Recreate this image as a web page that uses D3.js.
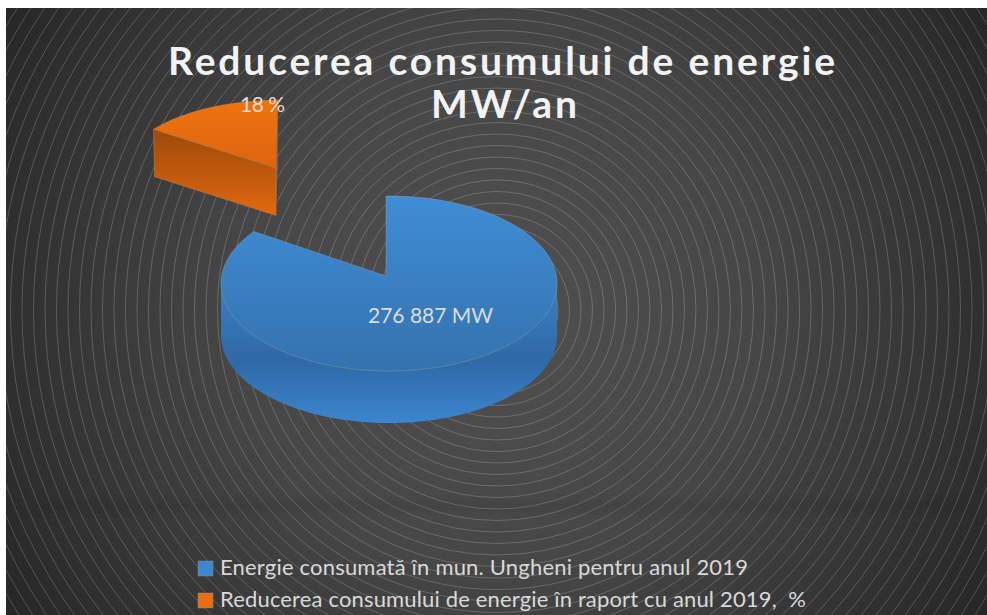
<!DOCTYPE html>
<html><head><meta charset="utf-8">
<script src="https://d3js.org/d3.v7.min.js"></script>
<style>html,body{margin:0;padding:0;background:#fff;overflow:hidden}svg{display:block}text{white-space:pre}</style>
</head><body><svg id="c" width="987" height="615"></svg>
<script>
const categories = ["Energie consumată în mun. Ungheni pentru anul 2019", "Reducerea consumului de energie în raport cu anul 2019,  %"];
const sliceValues = [276887, 47300];
const sliceLabels = ["276 887 MW", "18 %"];
const titleLines = ["Reducerea consumului de energie", "MW/an"];

const svg = d3.select("#c");
const defs = svg.append("defs");
function grad(id, stops, radial){
  const g = defs.append(radial ? "radialGradient" : "linearGradient").attr("id", id);
  if(radial){ g.attr("gradientUnits","userSpaceOnUse").attr("cx",497).attr("cy",310).attr("r",590); }
  else { g.attr("x1",0).attr("y1",0).attr("x2",0).attr("y2",1); }
  stops.forEach(s => g.append("stop").attr("offset",s[0]).attr("stop-color",s[1]));
}
grad("bg", [[0,"#505050"],[0.45,"#464646"],[1,"#252525"]], true);
grad("blueTop", [[0,"#3f8dd6"],[1,"#3472ae"]]);
grad("blueSide", [[0,"#3a80c4"],[0.55,"#2f69a6"],[1,"#3b86ce"]]);
grad("orTop", [[0,"#f0730f"],[1,"#db650f"]]);
grad("orSide", [[0,"#9c4a0a"],[1,"#e2680f"]]);
defs.append("filter").attr("id","soft").attr("x","-5%").attr("y","-100%").attr("width","110%").attr("height","300%")
  .append("feGaussianBlur").attr("stdDeviation",4);

svg.append("rect").attr("x",6).attr("y",8).attr("width",981).attr("height",607).attr("fill","url(#bg)");
const clip = defs.append("clipPath").attr("id","pl");
clip.append("rect").attr("x",6).attr("y",8).attr("width",981).attr("height",607);
svg.append("g").attr("clip-path","url(#pl)").selectAll("circle").data(d3.range(0,60)).join("circle")
  .attr("cx",497).attr("cy",310).attr("r",k=>3.5+11.5*k)
  .attr("fill","none").attr("stroke","#fff").attr("stroke-opacity",0.3).attr("stroke-width",0.65);
svg.append("rect").attr("x",40).attr("y",501).attr("width",925).attr("height",10).attr("fill","#000").attr("opacity",0.07).attr("filter","url(#soft)");

const pie = d3.pie().sort(null).startAngle(-Math.PI/180).endAngle(359*Math.PI/180);
const arcs = pie(sliceValues);
const line = d3.line();
function projector(cx,cy,rx,ry){
  const x = d3.scaleLinear().domain([-1,1]).range([cx-rx,cx+rx]);
  const y = d3.scaleLinear().domain([-1,1]).range([cy+ry,cy-ry]);
  return a => [x(Math.sin(a)), y(Math.cos(a))];
}
function sweep(p,a0,a1,dy=0){
  const n = 120;
  return d3.range(n+1).map(i=>{const q=p(a0+(a1-a0)*i/n);return [q[0],q[1]+dy];});
}
const EDGE = "#a9b4bd";

// orange exploded slice
const pO = projector(280.6,172,158,72), aO = arcs[1], apexO = [276,168], dO = 47.5;
const leftO = p => [p[0]+1, p[1]+dO];
const gO = svg.append("g");
const cO = pO(aO.startAngle), tO = pO(aO.endAngle);
gO.append("path").attr("d", line([cO,apexO,[apexO[0],apexO[1]+dO],leftO(cO)])+"Z").attr("fill","url(#orSide)").attr("stroke","#c97a3a").attr("stroke-width",0.5);
gO.append("path").attr("d", line([tO,[tO[0]-0.3,apexO[1]],[apexO[0],apexO[1]+dO],apexO])+"Z").attr("fill","#8e6a4c");
gO.append("path").attr("d", line([apexO,...sweep(pO,aO.startAngle,aO.endAngle)])+"Z").attr("fill","url(#orTop)").attr("stroke","#b08a68").attr("stroke-width",0.5).attr("stroke-opacity",.7);

// blue slice
const pB = projector(389,283.5,168,87.5), aB = arcs[0], apexB = [386,276], dB = 52;
const gB = svg.append("g");
const wall = sweep(pB,Math.PI/2,3*Math.PI/2);
const wallLow = sweep(pB,3*Math.PI/2,Math.PI/2,dB);
gB.append("path").attr("d", line([...wall,...wallLow])+"Z").attr("fill","url(#blueSide)");
gB.append("path").attr("d", line([apexB,...sweep(pB,aB.startAngle,aB.endAngle)])+"Z").attr("fill","url(#blueTop)").attr("stroke",EDGE).attr("stroke-width",0.6).attr("stroke-opacity",.55);

// labels
const lab = svg.append("g").attr("font-family","Lato, Carlito, sans-serif").attr("fill","#dcdcdc");
lab.append("text").attr("x",430.5).attr("y",323).attr("text-anchor","middle").attr("font-size",21).attr("textLength",125).attr("lengthAdjust","spacing").text(sliceLabels[0]);
lab.append("text").attr("x",262.5).attr("y",112).attr("text-anchor","middle").attr("font-size",21).attr("textLength",45).attr("lengthAdjust","spacing").text(sliceLabels[1]);

// title
const tt = svg.append("g").attr("font-family","Lato, Carlito, sans-serif").attr("font-weight",700).attr("font-size",39).attr("fill","#f2f2f2");
tt.append("text").attr("x",501.5).attr("y",75).attr("text-anchor","middle").attr("textLength",667).attr("lengthAdjust","spacing").text(titleLines[0]);
tt.append("text").attr("x",504).attr("y",118).attr("text-anchor","middle").attr("textLength",146).attr("lengthAdjust","spacing").text(titleLines[1]);

// legend
const colors = d3.scaleOrdinal().domain(categories).range(["#3c88d0","#ea6e10"]);
const lw = [528,586];
const leg = svg.append("g").selectAll("g").data(categories).join("g").attr("transform",(d,i)=>`translate(198,${561+i*32})`);
leg.append("rect").attr("width",15).attr("height",15).attr("fill",d=>colors(d)).attr("stroke","#8a8a8a").attr("stroke-opacity",.6).attr("stroke-width",0.8);
leg.append("text").attr("x",22).attr("y",14).attr("font-family","Lato, Carlito, sans-serif").attr("font-size",22).attr("fill","#d9d9d9")
  .attr("textLength",(d,i)=>lw[i]).attr("lengthAdjust","spacing").text(d=>d);
</script></body></html>
